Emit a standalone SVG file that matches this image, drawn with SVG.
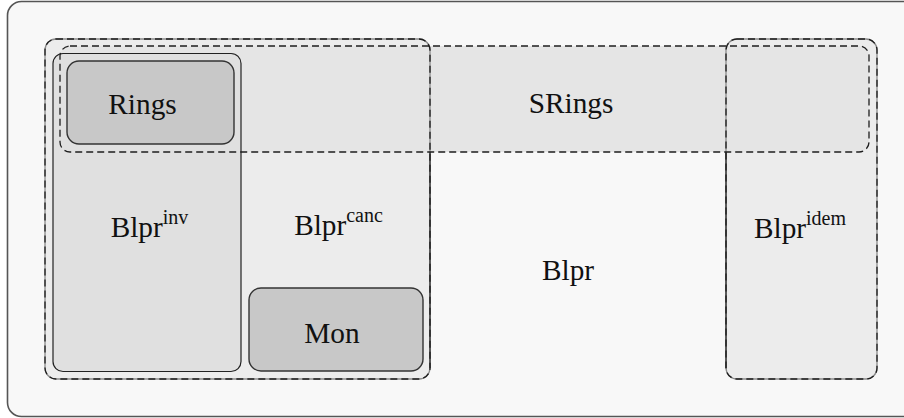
<svg xmlns="http://www.w3.org/2000/svg" width="904" height="418" viewBox="0 0 904 418">
<style>
text{font-family:"Liberation Serif","Times New Roman",serif;font-size:29.3px;fill:#111;text-anchor:middle}
.sup{font-size:20px}
.dashbase{fill:none;stroke:#8a8a8a;stroke-width:1.3}
.dash{fill:none;stroke:#1e1e1e;stroke-width:1.3;stroke-dasharray:7 4}
.solid{fill:none;stroke:#222;stroke-width:1.2}
.dark{fill:#c8c8c8;stroke:#333;stroke-width:1.4}
</style>
<g id="Blpr">
<rect x="7.5" y="1.5" width="920" height="415" rx="14" fill="#f8f8f8" stroke="#555" stroke-width="1.6"/>
<text x="568" y="280">Blpr</text>
</g>
<g id="fills">
<rect x="45" y="39" width="385" height="340" rx="11" fill="#ececec"/>
<rect x="726" y="39" width="151" height="340" rx="11" fill="#ececec"/>
<rect x="60" y="46" width="809" height="106" rx="10" fill="#e5e5e5"/>
</g>
<g id="Blpr-inv">
<rect x="53" y="53.5" width="188" height="318" rx="10" class="solid" style="fill:#e0e0e0"/>
<text x="149.5" y="237">Blpr<tspan class="sup" dy="-13">inv</tspan></text>
</g>
<g id="Blpr-canc">
<rect x="45" y="39" width="385" height="340" rx="11" class="dashbase"/>
<rect x="45" y="39" width="385" height="340" rx="11" class="dash"/>
<line x1="430" y1="152" x2="430" y2="368" class="solid"/>
<text x="338.5" y="235">Blpr<tspan class="sup" dy="-13">canc</tspan></text>
</g>
<g id="Blpr-idem">
<rect x="726" y="39" width="151" height="340" rx="11" class="dashbase"/>
<rect x="726" y="39" width="151" height="340" rx="11" class="dash"/>
<line x1="726" y1="152" x2="726" y2="368" class="solid"/>
<text x="800" y="237.5">Blpr<tspan class="sup" dy="-13">idem</tspan></text>
</g>
<g id="SRings">
<rect x="60" y="46" width="809" height="106" rx="10" class="dash"/>
<text x="571" y="113">SRings</text>
</g>
<g id="Rings">
<rect x="67" y="61" width="167" height="83" rx="12" class="dark"/>
<text x="142.5" y="114">Rings</text>
</g>
<g id="Mon">
<rect x="249" y="288" width="174" height="83" rx="12" class="dark"/>
<text x="332" y="342.5">Mon</text>
</g>
<g id="connectors"></g>
</svg>
